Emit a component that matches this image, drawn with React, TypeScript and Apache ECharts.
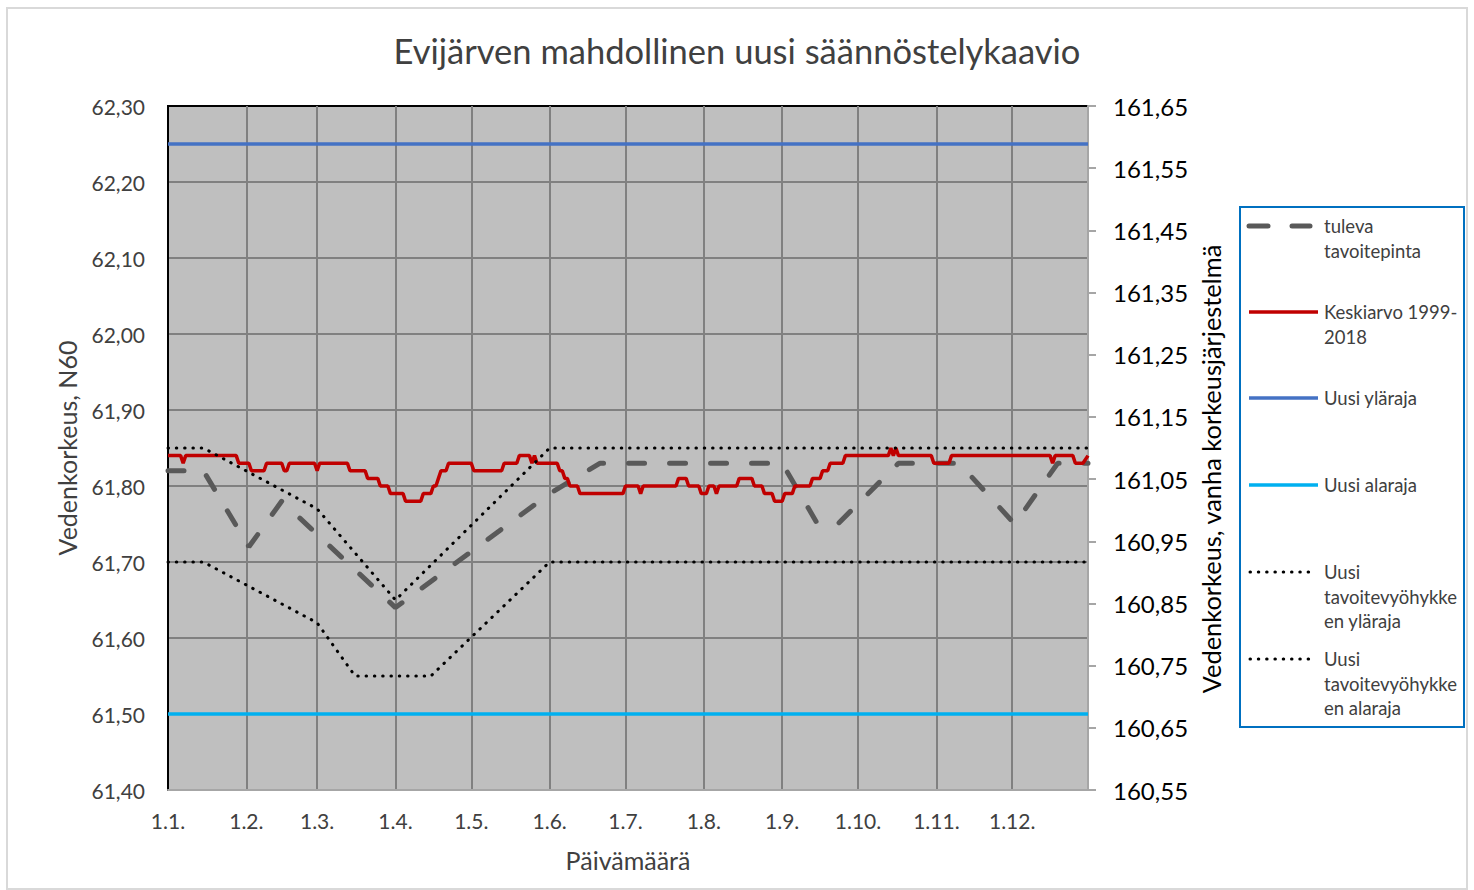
import React, { useEffect, useRef } from 'react';
import * as echarts from 'echarts';

const FONT = 'Lato, "Open Sans", sans-serif';

const MONTH_DAYS = [31, 28, 31, 30, 31, 30, 31, 31, 30, 31, 30, 31];
const dates: string[] = [];
MONTH_DAYS.forEach((n, m) => {
  for (let d = 1; d <= n; d++) dates.push(`${d}.${m + 1}.`);
});

const TITLE = 'Evijärven mahdollinen uusi säännöstelykaavio';

const tulevaTavoitepinta: [string, number][] = [
  ['1.1.', 61.82], ['15.1.', 61.82], ['2.2.', 61.72], ['15.2.', 61.78], ['1.4.', 61.64],
  ['1.6.', 61.79], ['21.6.', 61.83], ['1.9.', 61.83], ['15.9.', 61.75], ['23.9.', 61.75],
  ['17.10.', 61.83], ['10.11.', 61.83], ['2.12.', 61.75], ['19.12.', 61.83], ['31.12.', 61.83],
];

const keskiarvo: [string, number][] = [
  ['1.1.', 61.84], ['6.1.', 61.84], ['7.1.', 61.83], ['8.1.', 61.84], ['28.1.', 61.84], ['29.1.', 61.83],
  ['2.2.', 61.83], ['3.2.', 61.82], ['8.2.', 61.82], ['9.2.', 61.83], ['15.2.', 61.83], ['16.2.', 61.82],
  ['17.2.', 61.82], ['18.2.', 61.83], ['28.2.', 61.83], ['1.3.', 61.82], ['2.3.', 61.83], ['13.3.', 61.83],
  ['14.3.', 61.82], ['20.3.', 61.82], ['21.3.', 61.81], ['25.3.', 61.81], ['26.3.', 61.80], ['29.3.', 61.80],
  ['30.3.', 61.79], ['4.4.', 61.79], ['5.4.', 61.78], ['11.4.', 61.78], ['12.4.', 61.79], ['15.4.', 61.79],
  ['16.4.', 61.80], ['17.4.', 61.80], ['18.4.', 61.81], ['19.4.', 61.82], ['21.4.', 61.82], ['22.4.', 61.83],
  ['1.5.', 61.83], ['2.5.', 61.82], ['13.5.', 61.82], ['14.5.', 61.83], ['19.5.', 61.83], ['20.5.', 61.84],
  ['24.5.', 61.84], ['25.5.', 61.83], ['26.5.', 61.84], ['27.5.', 61.83], ['4.6.', 61.83], ['5.6.', 61.82],
  ['6.6.', 61.82], ['7.6.', 61.81], ['8.6.', 61.81], ['9.6.', 61.80], ['12.6.', 61.80], ['13.6.', 61.79],
  ['30.6.', 61.79], ['1.7.', 61.80], ['6.7.', 61.80], ['7.7.', 61.79], ['8.7.', 61.80], ['21.7.', 61.80],
  ['22.7.', 61.81], ['25.7.', 61.81], ['26.7.', 61.80], ['30.7.', 61.80], ['31.7.', 61.79], ['2.8.', 61.79],
  ['3.8.', 61.80], ['5.8.', 61.80], ['6.8.', 61.79], ['7.8.', 61.80], ['14.8.', 61.80], ['15.8.', 61.81],
  ['20.8.', 61.81], ['21.8.', 61.80], ['24.8.', 61.80], ['25.8.', 61.79], ['28.8.', 61.79], ['29.8.', 61.78],
  ['1.9.', 61.78], ['2.9.', 61.79], ['5.9.', 61.79], ['6.9.', 61.80], ['12.9.', 61.80], ['13.9.', 61.81],
  ['16.9.', 61.81], ['17.9.', 61.82], ['19.9.', 61.82], ['20.9.', 61.83], ['25.9.', 61.83], ['26.9.', 61.84],
  ['13.10.', 61.84], ['14.10.', 61.85], ['15.10.', 61.84], ['16.10.', 61.85], ['17.10.', 61.84],
  ['30.10.', 61.84], ['31.10.', 61.83], ['6.11.', 61.83], ['7.11.', 61.84], ['16.12.', 61.84],
  ['17.12.', 61.83], ['18.12.', 61.84], ['25.12.', 61.84], ['26.12.', 61.83], ['29.12.', 61.83],
  ['31.12.', 61.84],
];

const uusiYlaraja: [string, number][] = [['1.1.', 62.25], ['31.12.', 62.25]];
const uusiAlaraja: [string, number][] = [['1.1.', 61.5], ['31.12.', 61.5]];

const vyohykeYlaraja: [string, number][] = [
  ['1.1.', 61.85], ['15.1.', 61.85], ['1.3.', 61.77], ['1.4.', 61.65], ['1.6.', 61.85], ['31.12.', 61.85],
];
const vyohykeAlaraja: [string, number][] = [
  ['1.1.', 61.7], ['15.1.', 61.7], ['1.3.', 61.62], ['16.3.', 61.55], ['15.4.', 61.55], ['1.6.', 61.7],
  ['31.12.', 61.7],
];

const SERIES_NAMES = [
  'tuleva tavoitepinta',
  'Keskiarvo 1999-2018',
  'Uusi yläraja',
  'Uusi alaraja',
  'Uusi tavoitevyöhykkeen yläraja',
  'Uusi tavoitevyöhykkeen alaraja',
];
const LEGEND_TEXTS = [
  'tuleva\ntavoitepinta',
  'Keskiarvo 1999-\n2018',
  'Uusi yläraja',
  'Uusi alaraja',
  'Uusi\ntavoitevyöhykke\nen yläraja',
  'Uusi\ntavoitevyöhykke\nen alaraja',
];

const LEFT_NAME = 'Vedenkorkeus, N60';
const RIGHT_NAME = 'Vedenkorkeus, vanha korkeusjärjestelmä';
const X_NAME = 'Päivämäärä';

const fmt = (v: number) => v.toFixed(2).replace('.', ',');
const isMonthStart = (_i: number, v: string) => v.startsWith('1.');
const isMonthStartNoFirst = (i: number, v: string) => i > 0 && v.startsWith('1.');

export default function App() {
  const ref = useRef<HTMLDivElement>(null);
  useEffect(() => {
    if (!ref.current) return;
    const chart = echarts.init(ref.current, undefined, { renderer: 'svg' });
    const dashed = { color: '#595959', width: 5, type: [16, 25], cap: 'round' as const };
    const dotted = { color: '#000', width: 3, type: [0.5, 7.8], cap: 'round' as const };

    const legendYs = [226, 312, 398, 485, 572, 659];
    const legendStyles: any[] = [
      dashed,
      { color: '#C00000', width: 3.5 },
      { color: '#4472C4', width: 3.5 },
      { color: '#00B0F0', width: 3.5 },
      dotted,
      dotted,
    ];
    const legendGraphics: any[] = [
      {
        type: 'rect',
        shape: { x: 1240, y: 207, width: 224, height: 520 },
        style: { fill: '#fff', stroke: '#0070C0', lineWidth: 2 },
      },
    ];
    legendYs.forEach((y, i) => {
      const st = legendStyles[i];
      if (i === 0) {
        legendGraphics.push({
          type: 'line',
          shape: { x1: 1249, y1: y, x2: 1268, y2: y },
          style: { stroke: st.color, lineWidth: 5, lineCap: 'round' },
        });
        legendGraphics.push({
          type: 'line',
          shape: { x1: 1292, y1: y, x2: 1310, y2: y },
          style: { stroke: st.color, lineWidth: 5, lineCap: 'round' },
        });
      } else if (i >= 4) {
        legendGraphics.push({
          type: 'line',
          shape: { x1: 1250, y1: y, x2: 1316, y2: y },
          style: { stroke: st.color, lineWidth: 3, lineDash: [0.5, 7.8], lineCap: 'round' },
        });
      } else {
        legendGraphics.push({
          type: 'line',
          shape: { x1: 1249, y1: y, x2: 1318, y2: y },
          style: { stroke: st.color, lineWidth: st.width },
        });
      }
      legendGraphics.push({
        type: 'text',
        x: 1324,
        y: y - 12.3,
        style: {
          text: LEGEND_TEXTS[i],
          font: `18.5px ${FONT}`,
          fill: '#404040',
          lineHeight: 24.6,
          verticalAlign: 'top',
          align: 'left',
        },
      });
    });

    const option: any = {
      animation: false,
      backgroundColor: '#fff',
      title: {
        text: TITLE,
        left: 'center',
        top: 28,
        textStyle: { fontFamily: FONT, fontSize: 34.5, fontWeight: 'normal', color: '#404040' },
      },
      grid: {
        left: 168,
        top: 106,
        width: 920,
        height: 684,
        show: true,
        backgroundColor: '#BFBFBF',
        borderColor: '#000',
        borderWidth: 2,
      },
      xAxis: {
        type: 'category',
        data: dates,
        boundaryGap: false,
        axisLine: { show: true, lineStyle: { color: '#A6A6A6', width: 2 } },
        axisTick: { show: false },
        axisLabel: {
          interval: isMonthStart,
          margin: 20,
          fontSize: 21,
          fontFamily: FONT,
          color: '#404040',
        },
        splitLine: { show: true, interval: isMonthStartNoFirst, lineStyle: { color: '#808080', width: 2 } },
        name: X_NAME,
        nameLocation: 'middle',
        nameGap: 57,
        nameTextStyle: { fontFamily: FONT, fontSize: 25, color: '#404040' },
      },
      yAxis: [
        {
          type: 'value',
          min: 61.4,
          max: 62.3,
          interval: 0.1,
          axisLine: { show: true, lineStyle: { color: '#000', width: 2 } },
          axisTick: { show: false },
          axisLabel: { formatter: fmt, margin: 23, fontSize: 21, fontFamily: FONT, color: '#404040' },
          splitLine: {
            show: true,
            showMinLine: false,
            showMaxLine: false,
            lineStyle: { color: '#808080', width: 2 },
          },
          name: LEFT_NAME,
          nameLocation: 'middle',
          nameRotate: 90,
          nameGap: 89,
          nameTextStyle: { fontFamily: FONT, fontSize: 25, color: '#404040' },
        },
        {
          type: 'value',
          position: 'right',
          min: 160.55,
          max: 161.65,
          interval: 0.1,
          axisLine: { show: true, lineStyle: { color: '#A6A6A6', width: 2 } },
          axisTick: { show: true, inside: false, length: 8, lineStyle: { color: '#A6A6A6', width: 2 } },
          axisLabel: { formatter: fmt, margin: 25, fontSize: 24, fontFamily: FONT, color: '#000' },
          splitLine: { show: false },
          name: RIGHT_NAME,
          nameLocation: 'middle',
          nameRotate: 90,
          nameGap: 92,
          nameTextStyle: { fontFamily: FONT, fontSize: 25.4, color: '#000', padding: [0, 42, 0, 0] },
        },
      ],
      series: [
        { name: SERIES_NAMES[0], type: 'line', data: tulevaTavoitepinta, symbol: 'none', lineStyle: dashed, z: 2 },
        { name: SERIES_NAMES[1], type: 'line', data: keskiarvo, symbol: 'none', lineStyle: { color: '#C00000', width: 3.5 }, z: 3 },
        { name: SERIES_NAMES[2], type: 'line', data: uusiYlaraja, symbol: 'none', lineStyle: { color: '#4472C4', width: 3.5 }, z: 4 },
        { name: SERIES_NAMES[3], type: 'line', data: uusiAlaraja, symbol: 'none', lineStyle: { color: '#00B0F0', width: 3.5 }, z: 4 },
        { name: SERIES_NAMES[4], type: 'line', data: vyohykeYlaraja, symbol: 'none', lineStyle: dotted, z: 5 },
        { name: SERIES_NAMES[5], type: 'line', data: vyohykeAlaraja, symbol: 'none', lineStyle: dotted, z: 5 },
      ],
      graphic: [
        {
          type: 'rect',
          shape: { x: 7, y: 8, width: 1460, height: 881 },
          style: { fill: 'none', stroke: '#D9D9D9', lineWidth: 2 },
          z: -10,
          silent: true,
        },
        ...legendGraphics,
      ],
    };
    chart.setOption(option);
    return () => chart.dispose();
  }, []);
  return <div ref={ref} style={{ position: 'fixed', left: 0, top: 0, width: 1474, height: 890 }} />;
}
